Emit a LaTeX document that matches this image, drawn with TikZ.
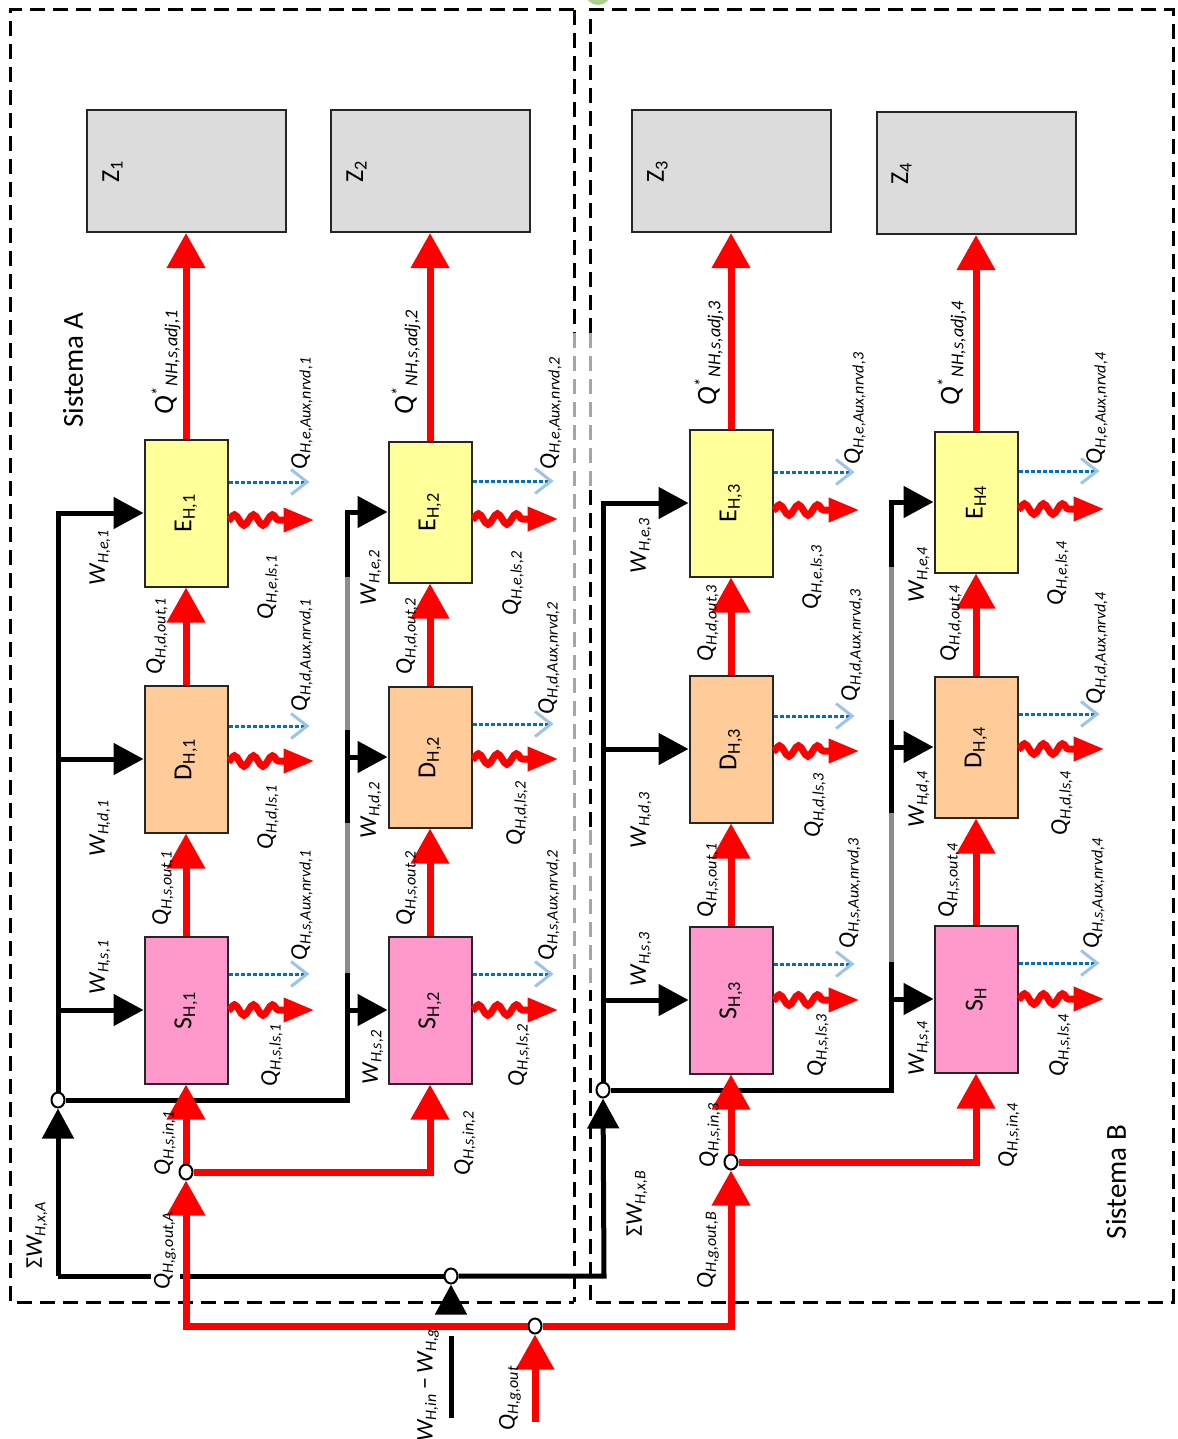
\documentclass[tikz,border=0pt]{standalone}
\usepackage{fontspec}
\setmainfont{Carlito}
\usetikzlibrary{arrows.meta,decorations.pathmorphing,shapes.geometric,positioning}
\newcommand{\Qs}[1]{Q\textsubscript{#1}}
\newcommand{\Ws}[1]{W\textsubscript{#1}}
\newcommand{\Qst}[1]{{\fontsize{14}{16}\selectfont Q}\textsuperscript{*}\textsubscript{#1}}

\begin{document}
\begin{tikzpicture}[x=0.5pt,y=-0.5pt,
  box/.style={draw=black!85,line width=1pt,minimum width=41.5pt,minimum height=73.5pt,inner sep=0pt},
  shortbox/.style={box,minimum height=70.5pt},
  zone/.style={draw=black!85,line width=1pt,fill=zonegray,minimum width=99.5pt,minimum height=61pt,inner sep=0pt},
  boxtxt/.style={rotate=90,font=\fontsize{13}{15}\selectfont,inner sep=0pt},
  lab/.style={rotate=90,font=\itshape\fontsize{12}{14}\selectfont,inner sep=0pt},
  labst/.style={lab,font=\itshape\fontsize{13}{15}\selectfont},
  systxt/.style={rotate=90,font=\fontsize{14.5}{17}\selectfont,inner sep=0pt},
  jn/.style={ellipse,draw,line width=1pt,fill=white,inner sep=0pt,minimum width=6.5pt,minimum height=7.5pt},
  qline/.style={draw=heatred,line width=3.5pt},
  qarr/.style={qline,-{Triangle[length=17.5pt,width=18.5pt]}},
  wline/.style={draw=black,line width=2.5pt},
  wgrey/.style={draw=busgray,line width=2.5pt},
  warr/.style={wline,-{Triangle[length=15pt,width=15.5pt]}},
  loss/.style={draw=heatred,line width=3.5pt,-{Triangle[length=15.5pt,width=11.5pt]},decorate,
    decoration={snake,amplitude=2.6pt,segment length=9.5pt,post length=15.5pt}},
  aux/.style={draw=auxblue,line width=1.5pt,dash pattern=on 2pt off 1pt,
    -{Straight Barb[length=8pt,width=12.5pt,color=auxlight]}},
  sysline/.style={line width=1.5pt,dash pattern=on 7.5pt off 4pt},
]
\definecolor{eyel}{HTML}{FFFF99}\definecolor{dora}{HTML}{FFCC99}
\definecolor{spink}{HTML}{FF99CC}\definecolor{zonegray}{HTML}{DCDCDC}
\definecolor{heatred}{HTML}{FF0000}\definecolor{busgray}{HTML}{8C8C8C}
\definecolor{auxblue}{HTML}{0070C0}\definecolor{auxlight}{HTML}{9DC3E6}
\definecolor{dashgray}{HTML}{A6A6A6}\definecolor{artgreen}{HTML}{A9D18E}
\useasboundingbox (0,0) rectangle (1177,1439);
\fill[artgreen] (598,-8) circle (13);
% system boundaries
\draw[sysline] (574,10) -- (10,10) -- (10,1302) -- (574,1302);
\draw[sysline] (574,10) -- (574,333);
\draw[sysline,draw=dashgray] (574,333) -- (574,975);
\draw[sysline] (574,975) -- (574,1302);
\draw[sysline] (590,333) -- (590,10) -- (1173,10) -- (1173,1302) -- (590,1302) -- (590,990);
\draw[sysline,draw=dashgray] (590,333) -- (590,490);
\draw[sysline] (590,490) -- (590,830);
\draw[sysline,draw=dashgray] (590,830) -- (590,990);
\node[systxt] (sysA) at (73,370) {Sistema A};
\node[systxt] (sysB) at (1116,1182) {Sistema B};
% zones
\node[zone] (Z1) at (186,171) {};
\node[zone] (Z2) at (430,171) {};
\node[zone] (Z3) at (731,171) {};
\node[zone] (Z4) at (976,173) {};
\node[boxtxt] (tZ1) at ([xshift=13.5pt]Z1.west) {Z\textsubscript{1}};
\node[boxtxt] (tZ2) at ([xshift=13.5pt]Z2.west) {Z\textsubscript{2}};
\node[boxtxt] (tZ3) at ([xshift=13.5pt]Z3.west) {Z\textsubscript{3}};
\node[boxtxt] (tZ4) at ([xshift=13pt]Z4.west) {Z\textsubscript{4}};
% emission, distribution, storage
\node[box,fill=eyel] (E1) at (186,513) {};
\node[box,fill=dora] (D1) at (186,759) {};
\node[box,fill=spink] (S1) at (186,1010) {};
\node[shortbox,fill=eyel] (E2) at (430,512) {};
\node[shortbox,fill=dora] (D2) at (430,757) {};
\node[box,fill=spink] (S2) at (430,1010) {};
\node[box,fill=eyel] (E3) at (731,503) {};
\node[box,fill=dora] (D3) at (731,749) {};
\node[box,fill=spink] (S3) at (731,1000) {};
\node[shortbox,fill=eyel] (E4) at (976,502) {};
\node[shortbox,fill=dora] (D4) at (976,747) {};
\node[box,fill=spink] (S4) at (976,999) {};
\node[boxtxt] (tE1) at (E1) {E\textsubscript{H,1}};
\node[boxtxt] (tD1) at (D1) {D\textsubscript{H,1}};
\node[boxtxt] (tS1) at (S1) {S\textsubscript{H,1}};
\node[boxtxt] (tE2) at (E2) {E\textsubscript{H,2}};
\node[boxtxt] (tD2) at (D2) {D\textsubscript{H,2}};
\node[boxtxt] (tS2) at (S2) {S\textsubscript{H,2}};
\node[boxtxt] (tE3) at (E3) {E\textsubscript{H,3}};
\node[boxtxt] (tD3) at (D3) {D\textsubscript{H,3}};
\node[boxtxt] (tS3) at (S3) {S\textsubscript{H,3}};
\node[boxtxt] (tE4) at (E4) {E\textsubscript{H4}};
\node[boxtxt] (tD4) at (D4) {D\textsubscript{H,4}};
\node[boxtxt] (tS4) at (S4) {S\textsubscript{H}};
% junctions
\node[jn] (cA) at (58,1100) {};
\node[jn] (cB) at (603,1090) {};
\node[jn] (cW) at (451,1276) {};
\node[jn] (cQ) at (535,1326) {};
\node[jn] (cSA) at (186,1172) {};
\node[jn] (cSB) at (731,1162) {};
\coordinate (bA) at (347,1100);
\coordinate (bB) at (891,1090);
\coordinate (lA) at (58,1276);
\coordinate (lB) at (604,1276);
% auxiliary energy, system A
\draw[warr] (lA) -- (cA);
\draw[wline] (lA) -- (151,1276);
\draw[wline] (180,1276) -- (cW);
\draw[warr] (cW) -- (lB) -- (cB);
\draw[wline] (451,1418) -- (451,1336);
\draw[warr] (451,1314) -- (cW);
\draw[warr] (cA) -- (cA |- E1) -- (E1);
\draw[warr] (cA |- D1) -- (D1);
\draw[warr] (cA |- S1) -- (S1);
\draw[wgrey] (bA) -- (bA |- E2);
\draw[wline] (cA) -- (bA) -- (347,973);
\draw[wline] (347,823) -- (347,730);
\draw[warr] (347,577) -- (bA |- E2) -- (E2);
\draw[warr] (bA |- D2) -- (D2);
\draw[warr] (bA |- S2) -- (S2);
% auxiliary energy, system B
\draw[warr] (cB) -- (cB |- E3) -- (E3);
\draw[warr] (cB |- D3) -- (D3);
\draw[warr] (cB |- S3) -- (S3);
\draw[wgrey] (bB) -- (bB |- E4);
\draw[wline] (cB) -- (bB) -- (891,962);
\draw[wline] (891,813) -- (891,720);
\draw[warr] (891,567) -- (bB |- E4) -- (E4);
\draw[warr] (bB |- D4) -- (D4);
\draw[warr] (bB |- S4) -- (S4);
% heat
\draw[qarr] (535,1422) -- (cQ);
\draw[qarr] (cQ) -- (cSA |- cQ) -- (cSA);
\draw[qarr] (cQ) -- (cSB |- cQ) -- (cSB);
\draw[qarr] (cSA) -- (S1);
\draw[qarr] (cSA) -| (S2);
\draw[qarr] (cSB) -- (S3);
\draw[qarr] (cSB) -| (S4);
\draw[qarr] (S1) -- (D1);
\draw[qarr] (D1) -- (E1);
\draw[qarr] (E1) -- (Z1);
\draw[qarr] (S2) -- (D2);
\draw[qarr] (D2) -- (E2);
\draw[qarr] (E2) -- (Z2);
\draw[qarr] (S3) -- (D3);
\draw[qarr] (D3) -- (E3);
\draw[qarr] (E3) -- (Z3);
\draw[qarr] (S4) -- (D4);
\draw[qarr] (D4) -- (E4);
\draw[qarr] (E4) -- (Z4);
% losses and recovered auxiliary energy
\draw[loss] ([yshift=-3.5pt]E1.east) -- ++(86,0);
\draw[loss] ([yshift=-1pt]D1.east) -- ++(86,0);
\draw[loss] (S1.east) -- ++(86,0);
\draw[loss] ([yshift=-3.5pt]E2.east) -- ++(86,0);
\draw[loss] ([yshift=-1pt]D2.east) -- ++(86,0);
\draw[loss] (S2.east) -- ++(86,0);
\draw[loss] ([yshift=-3.5pt]E3.east) -- ++(86,0);
\draw[loss] ([yshift=-1pt]D3.east) -- ++(86,0);
\draw[loss] (S3.east) -- ++(86,0);
\draw[loss] ([yshift=-3.5pt]E4.east) -- ++(86,0);
\draw[loss] ([yshift=-1pt]D4.east) -- ++(86,0);
\draw[loss] (S4.east) -- ++(86,0);
\draw[aux] ([yshift=15.5pt]E1.east) -- ++(81,0);
\draw[aux] ([yshift=16.5pt]D1.east) -- ++(81,0);
\draw[aux] ([yshift=18pt]S1.east) -- ++(81,0);
\draw[aux] ([yshift=15.5pt]E2.east) -- ++(81,0);
\draw[aux] ([yshift=16.5pt]D2.east) -- ++(81,0);
\draw[aux] ([yshift=18pt]S2.east) -- ++(81,0);
\draw[aux] ([yshift=15.5pt]E3.east) -- ++(81,0);
\draw[aux] ([yshift=16.5pt]D3.east) -- ++(81,0);
\draw[aux] ([yshift=18pt]S3.east) -- ++(81,0);
\draw[aux] ([yshift=15.5pt]E4.east) -- ++(81,0);
\draw[aux] ([yshift=16.5pt]D4.east) -- ++(81,0);
\draw[aux] ([yshift=18pt]S4.east) -- ++(81,0);
% labels, system A
\node[labst] (qZ1) at (166,362) {\Qst{NH,s,adj,1}};
\node[lab] (qEa1) at (302,413) {\Qs{H,e,Aux,nrvd,1}};
\node[lab] (wE1) at (100,557) {\Ws{H,e,1}};
\node[lab] (qEl1) at (268,587) {\Qs{H,e,ls,1}};
\node[lab] (qDo1) at (157,636) {\Qs{H,d,out,1}};
\node[lab] (qDa1) at (302,655) {\Qs{H,d,Aux,nrvd,1}};
\node[lab] (wD1) at (100,828) {\Ws{H,d,1}};
\node[lab] (qDl1) at (268,817) {\Qs{H,d,ls,1}};
\node[lab] (qSo1) at (163,888) {\Qs{H,s,out,1}};
\node[lab] (qSa1) at (302,905) {\Qs{H,s,Aux,nrvd,1}};
\node[lab] (wS1) at (100,967) {\Ws{H,s,1}};
\node[lab] (qSl1) at (272,1055) {\Qs{H,s,ls,1}};
\node[lab] (qSi1) at (165,1143) {\Qs{H,s,in,1}};
\node[labst] (qZ2) at (406,362) {\Qst{NH,s,adj,2}};
\node[lab] (qEa2) at (551,413) {\Qs{H,e,Aux,nrvd,2}};
\node[lab] (wE2) at (371,577) {\Ws{H,e,2}};
\node[lab] (qEl2) at (513,583) {\Qs{H,e,ls,2}};
\node[lab] (qDo2) at (407,636) {\Qs{H,d,out,2}};
\node[lab] (qDa2) at (549,658) {\Qs{H,d,Aux,nrvd,2}};
\node[lab] (wD2) at (371,810) {\Ws{H,d,2}};
\node[lab] (qDl2) at (517,813) {\Qs{H,d,ls,2}};
\node[lab] (qSo2) at (407,888) {\Qs{H,s,out,2}};
\node[lab] (qSa2) at (549,905) {\Qs{H,s,Aux,nrvd,2}};
\node[lab] (wS2) at (373,1057) {\Ws{H,s,2}};
\node[lab] (qSl2) at (519,1055) {\Qs{H,s,ls,2}};
\node[lab] (qSi2) at (465,1143) {\Qs{H,s,in,2}};
\node[lab] (wxA) at (37,1235) {{\upshape Σ}\Ws{H,x,A}};
\node[lab] (qgA) at (165,1250) {\Qs{H,g,out,A}};
\node[lab] (wIn) at (428,1385) {\Ws{H,in}\,{\upshape −}\,\Ws{H,g}};
\node[lab] (qg) at (510,1398) {\Qs{H,g,out}};
% labels, system B
\node[labst] (qZ3) at (709,353) {\Qst{NH,s,adj,3}};
\node[lab] (qEa3) at (855,408) {\Qs{H,e,Aux,nrvd,3}};
\node[lab] (wE3) at (641,545) {\Ws{H,e,3}};
\node[lab] (qEl3) at (813,577) {\Qs{H,e,ls,3}};
\node[lab] (qDo3) at (708,623) {\Qs{H,d,out,3}};
\node[lab] (qDa3) at (852,645) {\Qs{H,d,Aux,nrvd,3}};
\node[lab] (wD3) at (641,820) {\Ws{H,d,3}};
\node[lab] (qDl3) at (815,805) {\Qs{H,d,ls,3}};
\node[lab] (qSo3) at (708,880) {\Qs{H,s,out,1}};
\node[lab] (qSa3) at (850,893) {\Qs{H,s,Aux,nrvd,3}};
\node[lab] (wS3) at (641,959) {\Ws{H,s,3}};
\node[lab] (qSl3) at (818,1045) {\Qs{H,s,ls,3}};
\node[lab] (qSi3) at (710,1135) {\Qs{H,s,in,3}};
\node[labst] (qZ4) at (952,353) {\Qst{NH,s,adj,4}};
\node[lab] (qEa4) at (1097,408) {\Qs{H,e,Aux,nrvd,4}};
\node[lab] (wE4) at (919,574) {\Ws{H,e,4}};
\node[lab] (qEl4) at (1058,573) {\Qs{H,e,ls,4}};
\node[lab] (qDo4) at (951,623) {\Qs{H,d,out,4}};
\node[lab] (qDa4) at (1097,648) {\Qs{H,d,Aux,nrvd,4}};
\node[lab] (wD4) at (919,799) {\Ws{H,d,4}};
\node[lab] (qDl4) at (1062,803) {\Qs{H,d,ls,4}};
\node[lab] (qSo4) at (949,880) {\Qs{H,s,out,4}};
\node[lab] (qSa4) at (1094,893) {\Qs{H,s,Aux,nrvd,4}};
\node[lab] (wS4) at (919,1048) {\Ws{H,s,4}};
\node[lab] (qSl4) at (1060,1045) {\Qs{H,s,ls,4}};
\node[lab] (qSi4) at (1009,1135) {\Qs{H,s,in,4}};
\node[lab] (wxB) at (637,1203) {{\upshape Σ}\Ws{H,x,B}};
\node[lab] (qgB) at (708,1250) {\Qs{H,g,out,B}};
\end{tikzpicture}
\end{document}
